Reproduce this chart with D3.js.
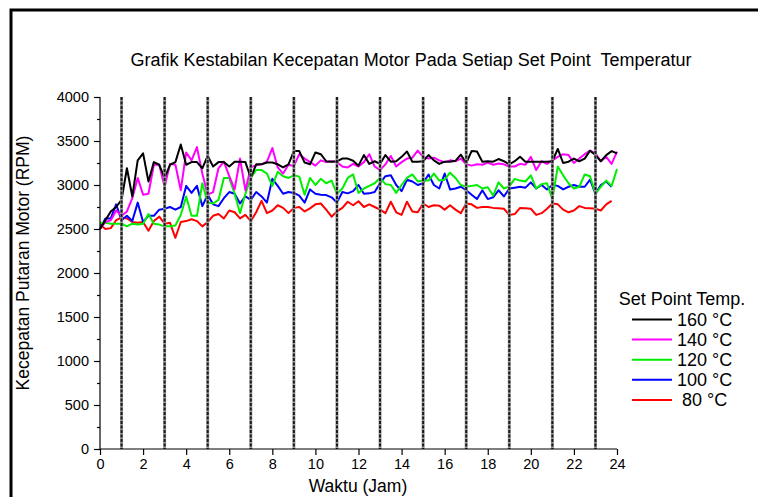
<!DOCTYPE html>
<html><head><meta charset="utf-8">
<script src="https://cdn.jsdelivr.net/npm/d3@7"></script>
<style>body{margin:0;background:#fff}svg{display:block}text{font-family:Arial,"Liberation Sans",sans-serif;fill:#000;white-space:pre}</style>
</head><body>
<script>
// ---- data (RPM, sampled every 0.25 h) ----
const stepHours = 0.25;
const s160 = [2500,2600,2700,2750,2830,3190,2870,3280,3360,3040,3260,3230,3080,3230,3260,3460,3230,3260,3260,3190,
3330,3210,3260,3260,3210,3265,3265,3260,3080,3235,3235,3255,3255,3235,3200,3235,3385,3385,3255,3235,
3370,3350,3270,3265,3270,3300,3300,3275,3220,3340,3240,3270,3240,3340,3265,3270,3320,3380,
3265,3265,3270,3340,3280,3240,3265,3265,3275,3345,3250,3385,3380,3265,3270,3265,3295,3270,3235,3270,
3320,3265,3265,3265,3265,3265,3270,3410,3250,3265,3300,3270,3300,3390,3340,3270,3340,3385,3360];
const s140 = [2500,2580,2600,2710,2650,2700,2850,3080,2890,2900,3230,3230,2980,3240,3230,2940,3370,3280,3430,3130,
2890,2920,3190,3265,3100,2950,3300,2940,3200,3225,3235,3265,3420,3200,3130,3230,3215,3350,3300,3260,
3220,3280,3260,3270,3260,3210,3200,3240,3210,3260,3350,3210,3170,3235,3330,3210,3260,3300,
3310,3390,3320,3300,3310,3280,3260,3280,3270,3300,3235,3220,3235,3230,3255,3230,3245,3235,3210,3210,
3240,3230,3320,3170,3270,3240,3280,3320,3350,3340,3250,3300,3350,3390,3360,3270,3320,3240,3380];
const s120 = [2570,2570,2560,2560,2560,2530,2560,2550,2560,2670,2560,2550,2530,2530,2540,2660,2870,2650,2650,3020,
2800,2790,2830,3080,3080,2900,2680,2900,3080,3170,3170,3130,2990,3150,3100,3080,3110,3095,2890,3080,
3000,3070,3020,3050,2900,2960,3080,3120,2910,2960,2990,3020,3080,3010,3000,2910,3000,3080,
3120,3040,3050,3050,3130,3050,3060,3140,3080,3000,2980,2990,3000,2960,2975,2880,3030,2960,2985,3070,
3050,3040,3110,2960,3010,3020,2840,3210,3110,3020,2960,2980,3120,3100,2900,2980,3050,2990,3180];
const s100 = [2500,2620,2620,2780,2600,2650,2590,2800,2580,2650,2650,2720,2730,2750,2720,2750,2990,2910,2990,2760,
2890,2780,2760,2850,2920,2900,2790,2870,2830,2920,2870,2800,3070,2990,2900,2920,2910,2880,2800,2950,
2900,2890,2885,2860,2800,2920,2905,2930,3000,2900,2905,2920,3020,3100,3110,3000,2930,3060,
3040,3000,3020,3120,3000,2960,3130,2950,2960,2980,2940,2890,2840,2940,2840,2860,2940,2870,2960,2970,
2980,2970,3030,2960,3000,2950,3000,2990,2950,2980,3000,2980,2980,3060,2900,3000,3040,2980];
const s80 = [2550,2500,2510,2600,2630,2620,2580,2570,2580,2480,2590,2640,2560,2570,2400,2580,2590,2610,2590,2530,
2580,2650,2670,2620,2710,2690,2620,2660,2590,2690,2820,2680,2710,2770,2740,2680,2740,2750,2700,2735,
2780,2790,2720,2640,2700,2740,2810,2770,2815,2750,2780,2750,2720,2680,2810,2690,2660,2810,
2700,2690,2790,2750,2770,2765,2720,2770,2720,2680,2790,2780,2740,2750,2750,2740,2735,2730,2660,2670,
2740,2735,2730,2660,2680,2730,2790,2780,2720,2690,2710,2760,2740,2735,2730,2710,2780,2820];
const seriesNames = ["160 °C","140 °C","120 °C","100 °C"," 80 °C"];
const seriesColors = ["#000000","#ff00ff","#00ee00","#0000ff","#ff0000"];
const seriesValues = [s160,s140,s120,s100,s80];
const setPointHours = [1,3,5,7,9,11,13,15,17,19,21,23];
const xTicks = [0,2,4,6,8,10,12,14,16,18,20,22,24];
const yTicks = [0,500,1000,1500,2000,2500,3000,3500,4000];
const yMinorTicks = [250,750,1250,1750,2250,2750,3250,3750];
const titleText = "Grafik Kestabilan Kecepatan Motor Pada Setiap Set Point  Temperatur";
const xLabel = "Waktu (Jam)";
const yLabel = "Kecepatan Putaran Motor (RPM)";
const legendTitle = "Set Point Temp.";

const W = 758, H = 497;
const svg = d3.select("body").append("svg").attr("width", W).attr("height", H);
const x = d3.scaleLinear().domain([0,24]).range([100,617]);
const y = d3.scaleLinear().domain([0,4000]).range([449,97]);

// frame
svg.append("path").attr("d", `M11,${H+5} L11,10 L${W+5},10`).attr("fill","none").attr("stroke","#000").attr("stroke-width",3);

// title
svg.append("text").attr("x",411).attr("y",66).attr("text-anchor","middle").attr("xml:space","preserve")
  .style("font-size","18px").text(titleText);

// data lines
const line = d3.line().x((d,i)=>x(i*stepHours)).y(d=>y(d));
for (let k = seriesValues.length-1; k >= 0; k--) {
  svg.append("path").datum(seriesValues[k]).attr("d", line).attr("fill","none")
    .attr("stroke", seriesColors[k]).attr("stroke-width",2).attr("stroke-linejoin","round");
}

// set point dashed lines
const sp = svg.append("g");
sp.selectAll("line.bg").data(setPointHours).join("line").attr("class","bg")
  .attr("x1",d=>x(d)).attr("x2",d=>x(d)).attr("y1",y(4000)).attr("y2",y(0))
  .attr("stroke","#999").attr("stroke-width",3);
sp.selectAll("line.fg").data(setPointHours).join("line").attr("class","fg")
  .attr("x1",d=>x(d)).attr("x2",d=>x(d)).attr("y1",y(4000)).attr("y2",y(0))
  .attr("stroke","#1a1a1a").attr("stroke-width",2).attr("stroke-dasharray","3,1.5");

// axes
const yAxis = d3.axisLeft(y).tickValues(yTicks).tickSize(6).tickPadding(5).tickFormat(d3.format("d"));
const gy = svg.append("g").attr("transform","translate(100,0)").call(yAxis);
gy.selectAll("text").style("font-size","14.5px");
gy.select(".domain").attr("d",`M0,${y(0)}V${y(4000)}`);
const gyMinor = svg.append("g").attr("transform","translate(100,0)")
  .call(d3.axisLeft(y).tickValues(yMinorTicks).tickSize(3).tickFormat(""));
gyMinor.select(".domain").remove();

const xAxis = d3.axisBottom(x).tickValues(xTicks).tickSize(6).tickPadding(4).tickFormat(d3.format("d"));
const gx = svg.append("g").attr("transform",`translate(0,${y(0)})`).call(xAxis);
gx.selectAll("text").style("font-size","14.5px");
gx.select(".domain").attr("d",`M${x(0)},0H${x(24)}`);

svg.selectAll(".domain, .tick line").attr("stroke","#000").attr("stroke-width",1.2);

// axis labels
svg.append("text").attr("x",358).attr("y",492).attr("text-anchor","middle").style("font-size","17.5px").text(xLabel);
svg.append("text").attr("transform","translate(29,263) rotate(-90)").attr("text-anchor","middle").style("font-size","17.5px").text(yLabel);

// legend
const lg = svg.append("g");
lg.append("text").attr("x",682).attr("y",305).attr("text-anchor","middle").style("font-size","18px").text(legendTitle);
seriesNames.forEach((n,i)=>{
  const yy = 319.5 + i*20.1;
  lg.append("line").attr("x1",632).attr("x2",672).attr("y1",yy).attr("y2",yy)
    .attr("stroke",seriesColors[i]).attr("stroke-width",2);
  lg.append("text").attr("x",677).attr("y",yy+6.5).attr("xml:space","preserve").style("font-size","18px").text(n);
});
</script>
</body></html>
